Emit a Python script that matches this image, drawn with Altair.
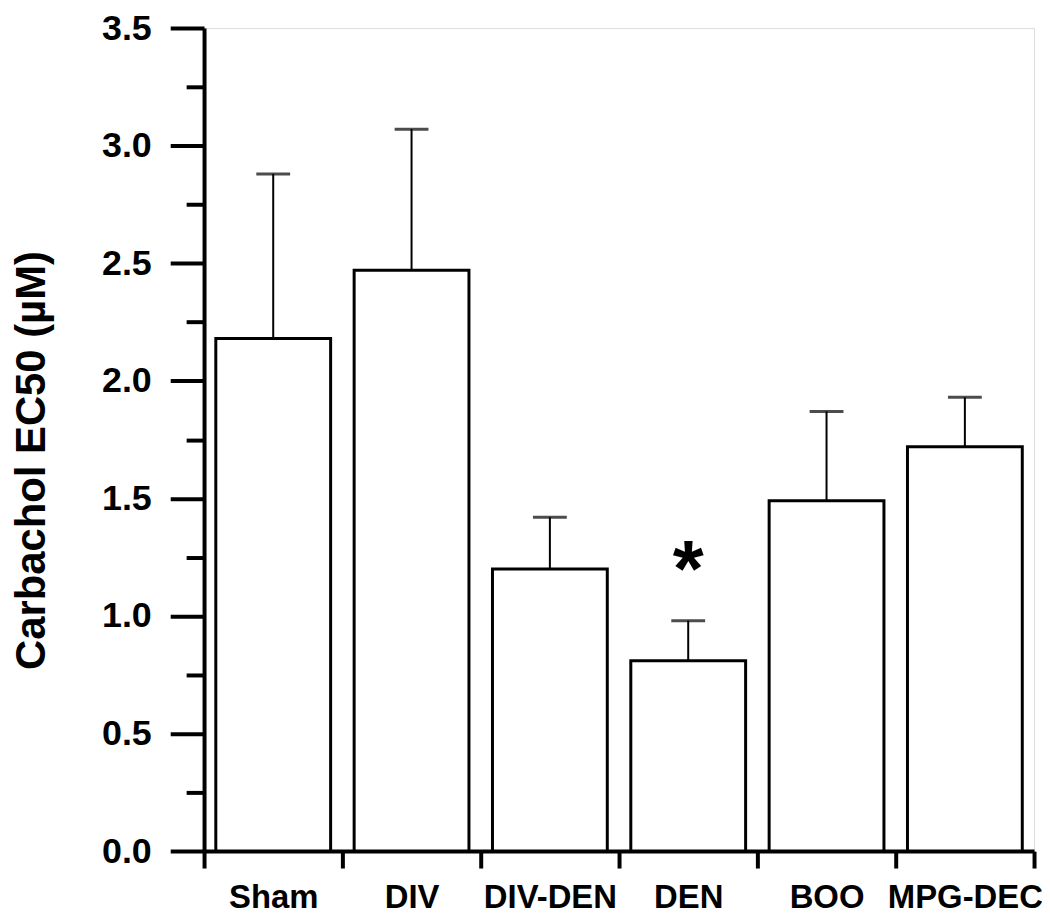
import altair as alt
import pandas as pd

groups = ["Sham", "DIV", "DIV-DEN", "DEN", "BOO", "MPG-DEC"]
means = [2.18, 2.47, 1.20, 0.81, 1.49, 1.72]
sems = [0.70, 0.60, 0.22, 0.17, 0.38, 0.21]
marks = ["", "", "", "*", "", ""]

df = pd.DataFrame({"group": groups, "mean": means, "sem": sems, "sig": marks})

FONT = "Liberation Sans"

x = alt.X("group:N", sort=groups, title=None,
          scale=alt.Scale(paddingInner=0, paddingOuter=0),
          axis=alt.Axis(labelAngle=0, tickBand="extent", domainWidth=4, domainColor="black",
                        tickWidth=4, tickColor="black", tickSize=17,
                        labelFont=FONT, labelFontSize=33, labelFontWeight="bold",
                        labelColor="black", labelPadding=14))

y = alt.Y("mean:Q", title="Carbachol EC50 (µM)",
          scale=alt.Scale(domain=[0, 3.5], nice=False, zero=True),
          axis=alt.Axis(values=[i * 0.25 for i in range(15)],
                        labelExpr="datum.value % 0.5 === 0 ? format(datum.value, '.1f') : ''",
                        tickSize={"condition": {"test": "datum.value % 0.5 === 0", "value": 34}, "value": 18},
                        tickWidth=4, tickColor="black", domainWidth=4, domainColor="black",
                        labelFont=FONT, labelFontSize=36, labelFontWeight="bold", labelColor="black",
                        labelPadding=19, grid=False,
                        titleFont=FONT, titleFontSize=42, titleFontWeight="bold", titleColor="black",
                        titlePadding=48, titleY=434))

base = alt.Chart(df)

bars = base.mark_bar(fill="white", stroke="black", strokeWidth=3,
                     width=alt.RelativeBandSize(0.83)).encode(x=x, y=y)

err = base.transform_calculate(top="datum.mean + datum.sem").mark_rule(
    color="black", strokeWidth=2).encode(x=alt.X("group:N", sort=groups), y="mean:Q", y2="top:Q")

cap = base.transform_calculate(top="datum.mean + datum.sem").mark_tick(
    color="black", thickness=3, size=34, orient="horizontal").encode(
    x=alt.X("group:N", sort=groups), y="top:Q")

star = base.transform_calculate(top="datum.mean + datum.sem").mark_text(
    font=FONT, fontSize=80, fontWeight="bold", color="black", baseline="alphabetic", dy=-25).encode(
    x=alt.X("group:N", sort=groups), y="top:Q", text="sig:N")

chart = alt.layer(bars, err, cap, star).properties(
    width=834, height=827,
    autosize=alt.AutoSizeParams(type="none"),
    padding={"left": 197, "top": 18, "right": 8, "bottom": 62},
).configure_view(stroke=None).configure(background="white")

chart.save("out.html", embed_options={"renderer": "svg", "actions": False})
